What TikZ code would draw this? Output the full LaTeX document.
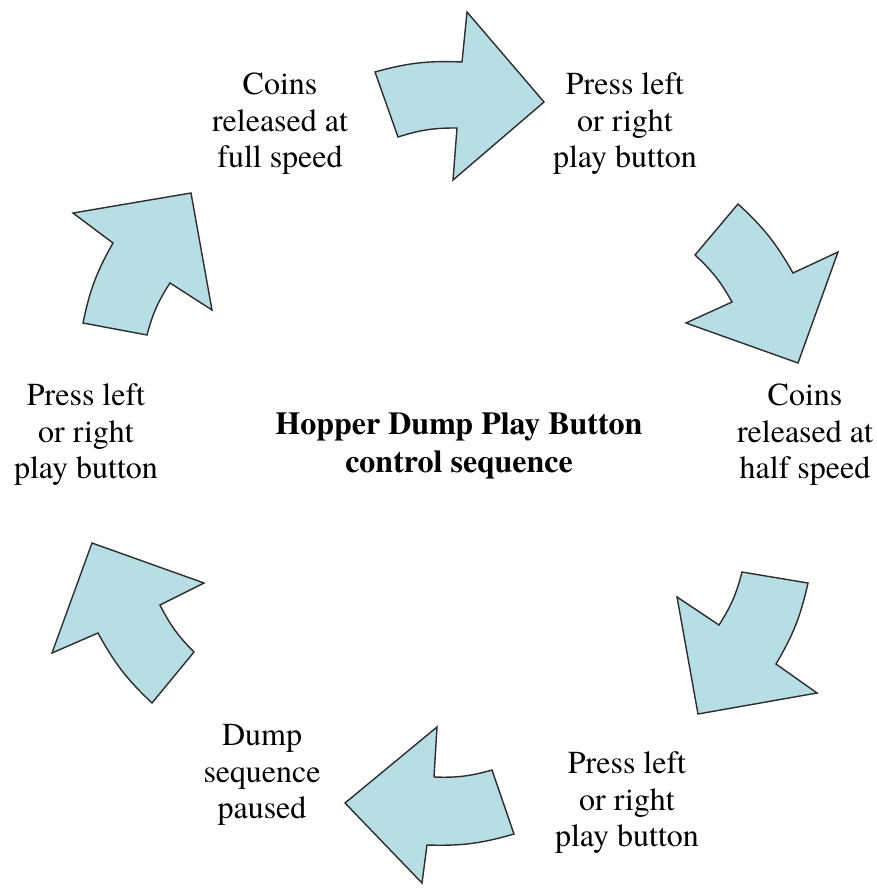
\documentclass[tikz,border=0pt]{standalone}
\usepackage{fontspec}
\setmainfont{TeX Gyre Termes}
\definecolor{arrowfill}{RGB}{183,221,229}
\definecolor{arrowline}{RGB}{45,45,45}
\begin{document}
\begin{tikzpicture}[x=1pt,y=1pt,
  cyc/.style={fill=arrowfill,draw=arrowline,line width=1.4pt,line join=miter},
  lbl/.style={align=center,font=\rmfamily\fontsize{32}{36.5}\selectfont,inner sep=0pt},
  ttl/.style={align=center,font=\rmfamily\bfseries\fontsize{32}{38}\selectfont,inner sep=0pt}]
\path[use as bounding box] (0,0) rectangle (877,-894);

% arrows (clockwise cycle)
\draw[cyc] (375,-72) to[bend left=9] (462,-62) -- (467,-12) -- (544,-102) -- (453,-180) -- (457,-128) to[bend right=9] (398,-137) -- cycle;
\draw[cyc] (738,-204) to[bend left=9] (793,-273) -- (838,-252) -- (798,-363) -- (686,-323) -- (732,-302) to[bend right=9] (695,-255) -- cycle;
\draw[cyc] (808,-583) to[bend left=9] (776,-664) -- (817,-693) -- (698,-714) -- (677,-597) -- (719,-625) to[bend right=9] (742,-572) -- cycle;
\draw[cyc] (514,-834) to[bend left=9] (427,-845) -- (422,-883) -- (345,-803) -- (437,-727) -- (434,-777) to[bend right=9] (492,-770) -- cycle;
\draw[cyc] (152,-703) to[bend left=9] (98,-633) -- (52,-653) -- (92,-543) -- (204,-583) -- (160,-605) to[bend right=9] (194,-652) -- cycle;
\draw[cyc] (83,-323) to[bend left=9] (113,-243) -- (73,-213) -- (191,-193) -- (212,-310) -- (170,-283) to[bend right=9] (147,-335) -- cycle;

% labels
\node[lbl] (full) at (280,-124) {Coins\\released at\\full speed};
\node[lbl] (press1) at (625,-124) {Press left\\or right\\play button};
\node[lbl] (half) at (805,-435) {Coins\\released at\\half speed};
\node[lbl] (press2) at (627,-803) {Press left\\or right\\play button};
\node[lbl] (paused) at (262,-775) {Dump\\sequence\\paused};
\node[lbl] (press3) at (86,-435) {Press left\\or right\\play button};
\node[ttl] (title) at (459,-446) {Hopper Dump Play Button\\control sequence};
\end{tikzpicture}
\end{document}
